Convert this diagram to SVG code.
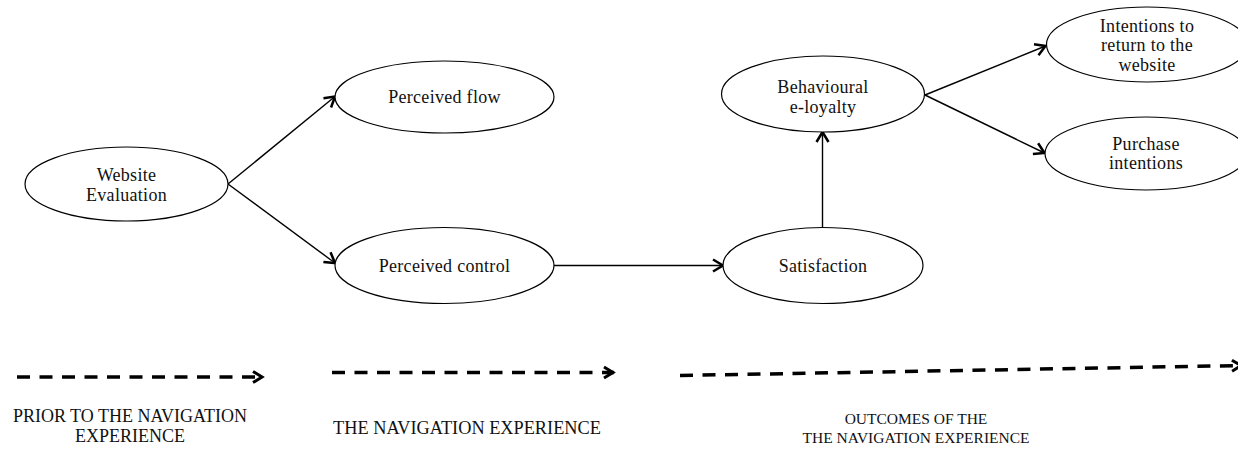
<svg xmlns="http://www.w3.org/2000/svg" width="1238" height="449" viewBox="0 0 1238 449">
<style>
.node ellipse{fill:#fff;stroke:#000;stroke-width:1.2}
.lbl{font-family:"Liberation Serif","Times New Roman",serif;font-size:18px;letter-spacing:0.3px;fill:#111;text-anchor:middle}
.cap{font-family:"Liberation Serif","Times New Roman",serif;fill:#111;text-anchor:middle}
.conn{stroke:#000;stroke-width:1.4;fill:none}
.phase{stroke:#000;stroke-width:3.5;fill:none;stroke-dasharray:13 9.5}
</style>
<defs>
<marker id="arr" markerUnits="userSpaceOnUse" markerWidth="14" markerHeight="16" viewBox="-1 -1 14 16" refX="11" refY="7" orient="auto">
<path d="M1,1 L11,7 L1,13" fill="none" stroke="#000" stroke-width="2.5" stroke-linejoin="miter"/>
</marker>
<marker id="arrBig" markerUnits="userSpaceOnUse" markerWidth="16" markerHeight="16" viewBox="-1 -1 16 16" refX="12" refY="7" orient="auto">
<path d="M2,1.5 L11,7 L2,12.5" fill="none" stroke="#000" stroke-width="3"/>
</marker>
</defs>
<rect width="1238" height="449" fill="#fff"/>
<g id="connectors">
<line class="conn" x1="228" y1="184" x2="335" y2="96.5" marker-end="url(#arr)"/>
<line class="conn" x1="228" y1="184" x2="335" y2="263" marker-end="url(#arr)"/>
<line class="conn" x1="554" y1="265.5" x2="723" y2="265.5" marker-end="url(#arr)"/>
<line class="conn" x1="822.5" y1="227" x2="822.5" y2="132" marker-end="url(#arr)"/>
<line class="conn" x1="925" y1="95" x2="1045.5" y2="46" marker-end="url(#arr)"/>
<line class="conn" x1="925" y1="95" x2="1044.5" y2="153" marker-end="url(#arr)"/>
</g>
<g id="website-evaluation" class="node">
<ellipse cx="126.5" cy="184" rx="101.5" ry="37"/>
<text class="lbl" x="126.5" y="181">Website</text>
<text class="lbl" x="126.5" y="201">Evaluation</text>
</g>
<g id="perceived-flow" class="node">
<ellipse cx="444.5" cy="97" rx="109.5" ry="36"/>
<text class="lbl" x="444.5" y="102.5">Perceived flow</text>
</g>
<g id="perceived-control" class="node">
<ellipse cx="444.5" cy="265.5" rx="109.5" ry="38"/>
<text class="lbl" x="444.5" y="272">Perceived control</text>
</g>
<g id="satisfaction" class="node">
<ellipse cx="823" cy="265.5" rx="100" ry="38"/>
<text class="lbl" x="823" y="272">Satisfaction</text>
</g>
<g id="behavioural-e-loyalty" class="node">
<ellipse cx="823" cy="94" rx="101.5" ry="38"/>
<text class="lbl" x="823" y="92.5">Behavioural</text>
<text class="lbl" x="823" y="112.5">e-loyalty</text>
</g>
<g id="intentions-return" class="node">
<ellipse cx="1147" cy="44.5" rx="100.5" ry="37.5"/>
<text class="lbl" x="1147" y="31.5">Intentions to</text>
<text class="lbl" x="1147" y="51">return to the</text>
<text class="lbl" x="1147" y="70.5">website</text>
</g>
<g id="purchase-intentions" class="node">
<ellipse cx="1146" cy="153.5" rx="101" ry="36.5"/>
<text class="lbl" x="1146" y="150">Purchase</text>
<text class="lbl" x="1146" y="169">intentions</text>
</g>
<g id="phases">
<line class="phase" x1="17" y1="377" x2="263" y2="377" marker-end="url(#arrBig)"/>
<line class="phase" x1="332" y1="372.5" x2="614" y2="372.5" marker-end="url(#arrBig)"/>
<line class="phase" x1="680" y1="375.5" x2="1242" y2="365.5" marker-end="url(#arrBig)"/>
</g>
<g id="phase-labels">
<text class="cap" x="130" y="422" font-size="18">PRIOR TO THE NAVIGATION</text>
<text class="cap" x="130" y="442" font-size="18">EXPERIENCE</text>
<text class="cap" x="467" y="434" font-size="18.3">THE NAVIGATION EXPERIENCE</text>
<text class="cap" x="916" y="424" font-size="15.5">OUTCOMES OF THE</text>
<text class="cap" x="916" y="443" font-size="15.5">THE NAVIGATION EXPERIENCE</text>
</g>
</svg>
